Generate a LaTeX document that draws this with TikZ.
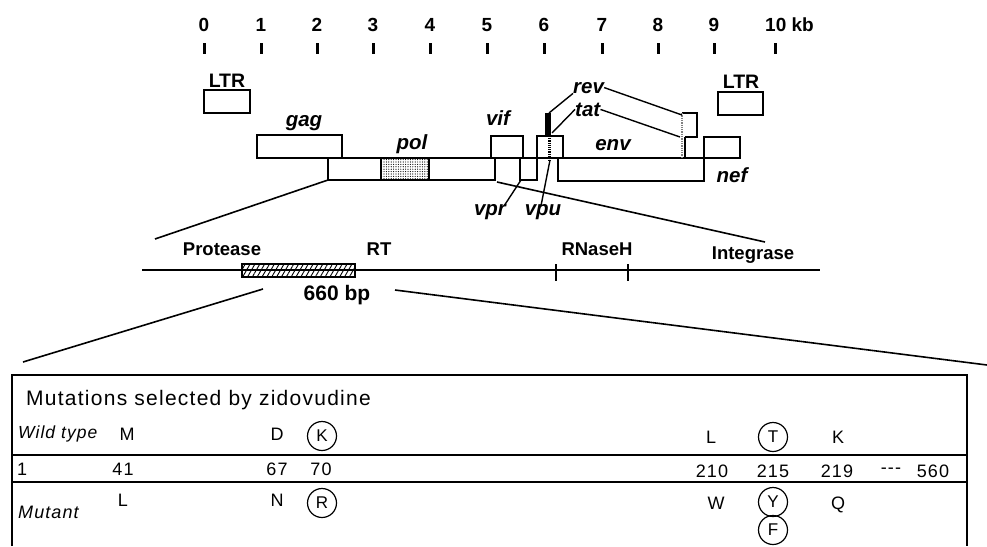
\documentclass[tikz,border=0pt]{standalone}
\usepackage{fontspec}
\setmainfont{Liberation Sans}
\newfontfamily\tabfont[LetterSpace=6]{Liberation Sans}
\usetikzlibrary{patterns.meta}
\begin{document}
\begin{tikzpicture}[x=1pt,y=-1pt,
  gbox/.style n args={2}{draw, line width=1.9pt, fill=white, inner sep=0pt, outer sep=0pt,
     anchor=north west, minimum width=#1, minimum height=#2},
  tick/.style={line width=3pt},
  ticklab/.style={font=\bfseries\fontsize{19}{19}\selectfont, anchor=base, inner sep=0pt},
  gene/.style={font=\bfseries\itshape\fontsize{20.5}{20.5}\selectfont, anchor=base, inner sep=0pt},
  ltr/.style={font=\bfseries\fontsize{19.5}{19.5}\selectfont, anchor=base, inner sep=0pt},
  prot/.style={font=\bfseries\fontsize{18.5}{18.5}\selectfont, anchor=base, inner sep=0pt},
  ptr/.style={line width=1.4pt},
  expline/.style={line width=1.6pt},
  tline/.style={line width=1.4pt},
  tt/.style={font=\tabfont\fontsize{18}{18}\selectfont, inner sep=0pt},
  circ/.style={draw, circle, line width=1.2pt, minimum size=29pt, inner sep=0pt,
     font=\tabfont\fontsize{17}{17}\selectfont}
]
\useasboundingbox (0,0) rectangle (987,546);

% ---------- kb scale ----------
\foreach \i/\x in {0/204,1/261,2/317,3/373,4/430,5/487,6/544,7/602,8/658,9/714}{
  \node[ticklab] (lab\i) at (\x,31) {\i};
  \draw[tick] (\x,43) -- (\x,54);
}
\node[ticklab, anchor=base west] (lab10) at (765,31) {10 kb};
\draw[tick] (775,43) -- (775,54);

% ---------- LTRs ----------
\node[ltr] (ltrLlab) at (227,87) {LTR};
\node[gbox={46}{23}] (ltrL) at (204,90) {};
\node[ltr] (ltrRlab) at (741,88) {LTR};
\node[gbox={45}{23}] (ltrR) at (718,92) {};

% ---------- genome ----------
\coordinate (bl) at (257,158);
\coordinate (br) at (740,158);
\draw[line width=1.9pt] (bl) -- (br);
\node[gbox={85}{23}] (gag) at (257,135) {};
\node[gbox={167}{22}] (pol) at (328,158) {};
\node[gbox={48}{22}, fill=none, pattern={Dots[distance=2.4pt, radius=0.6pt]}] (polRT) at (381,158) {};
\node[gbox={32}{22}] (vif) at (491,136) {};
\node[gbox={17}{22}] (vpr) at (520,158) {};
\node[gbox={26}{22}] (vpu) at (537,136) {};
\node[gbox={146}{23}] (env) at (558,158) {};
\node[gbox={36}{21}] (nef) at (704,137) {};

% rev / tat exons
\fill (545,113) rectangle (550.5,136);
\draw[line width=3pt, dash pattern=on 1.2pt off 1pt] (549.5,136) -- (549.5,161);
\coordinate (bartop) at (549,113);
\coordinate (barmid) at (552,133);
\draw[line width=1.9pt] (682,113) -- (697,113) -- (697,137) -- (685,137);
\draw[line width=1.3pt, gray, densely dotted] (682,113) -- (682,158);
\draw[line width=1.3pt] (685,137) -- (685,158);
\coordinate (revbox) at (682,115);
\coordinate (tatex) at (680,137);

% gene labels
\node[gene] (gaglab) at (304,126) {gag};
\node[gene] (pollab) at (412,149) {pol};
\node[gene] (viflab) at (498,125) {vif};
\node[gene] (envlab) at (613,150) {env};
\node[gene] (neflab) at (732,182) {nef};
\node[gene] (vprlab) at (490,215) {vpr};
\node[gene] (vpulab) at (543,215) {vpu};
\node[gene, anchor=base west] (revlab) at (573,93) {rev};
\node[gene, anchor=base west] (tatlab) at (575,116) {tat};

\draw[ptr] (bartop) -- (revlab.south west);
\draw[ptr] (barmid) -- (tatlab.west);
\draw[ptr] (revlab.east) -- (revbox);
\draw[ptr] (tatlab.east) -- (tatex);
\coordinate (vprend) at (521,180);
\coordinate (vpuend) at (550,160);
\draw[ptr] (vprlab.north east) ++(-2,2) -- (vprend);
\draw[ptr] (vpulab.north) ++(-2,2) -- (vpuend);

% ---------- expansion to pol protein map ----------
\coordinate (pmL) at (155,239);
\coordinate (pmR) at (765,242);
\draw[expline] (pol.south west) -- (pmL);
\draw[expline] ([shift={(2,2)}]pol.south east) -- (pmR);

% ---------- pol protein map ----------
\coordinate (plL) at (142,270);
\coordinate (plR) at (820,270);
\draw[tline] (plL) -- (plR);
\node[gbox={113}{13}, line width=1.4pt, pattern={Lines[angle=60, distance=4.2pt, line width=0.9pt]}] (frag) at (242,264) {};
\draw[tline] (556,264) -- (556,281);
\draw[tline] (628,264) -- (628,281);
\node[prot] (protease) at (222,255) {Protease};
\node[prot] (rt) at (379,255) {RT};
\node[prot] (rnaseh) at (597,255) {RNaseH};
\node[prot] (integrase) at (753,259) {Integrase};
\node[font=\bfseries\fontsize{21}{21}\selectfont, anchor=base, inner sep=0pt] (bp) at (337,300) {660 bp};

% ---------- expansion to table ----------
\coordinate (fL) at (263,289);
\coordinate (fR) at (395,290);
\coordinate (tL) at (23,362);
\coordinate (tR) at (987,365);
\draw[expline] (fL) -- (tL);
\draw[expline] (fR) -- (tR);

% ---------- table ----------
\draw[tline] (12,546) -- (12,375) -- (967,375) -- (967,546);
\draw[tline] (12,455) -- (967,455);
\draw[tline] (12,482) -- (967,482);
\node[font=\tabfont\fontsize{21}{21}\selectfont, anchor=base west, inner sep=0pt] (title) at (26,405) {Mutations selected by zidovudine};

\node[tt, font=\tabfont\itshape\fontsize{17.5}{17.5}\selectfont, anchor=west] (wt) at (18,434) {Wild type};
\node[tt] (w41) at (127,434) {M};
\node[tt] (w67) at (277,434) {D};
\node[circ] (w70) at (322,436) {K};
\node[tt] (w210) at (711,437) {L};
\node[circ] (w215) at (773,437) {T};
\node[tt] (w219) at (838,437) {K};

\node[tt, anchor=west] (n1) at (17,469) {1};
\node[tt] (n41) at (123,469) {41};
\node[tt] (n67) at (277,469) {67};
\node[tt] (n70) at (321,469) {70};
\node[tt] (n210) at (712,471) {210};
\node[tt] (n215) at (773,471) {215};
\node[tt] (n219) at (837,471) {219};
\node[tt] (ndots) at (891,471) {-{}-{}-};
\node[tt] (n560) at (933,471) {560};

\node[tt, font=\tabfont\itshape\fontsize{18}{18}\selectfont, anchor=west] (mut) at (18,512) {Mutant};
\node[tt] (m41) at (123,500) {L};
\node[tt] (m67) at (277,500) {N};
\node[circ] (m70) at (322,503) {R};
\node[tt] (m210) at (716,503) {W};
\node[circ] (m215) at (773,502) {Y};
\node[circ] (m215b) at (773,530) {F};
\node[tt] (m219) at (838,505) {Q};
\end{tikzpicture}
\end{document}
